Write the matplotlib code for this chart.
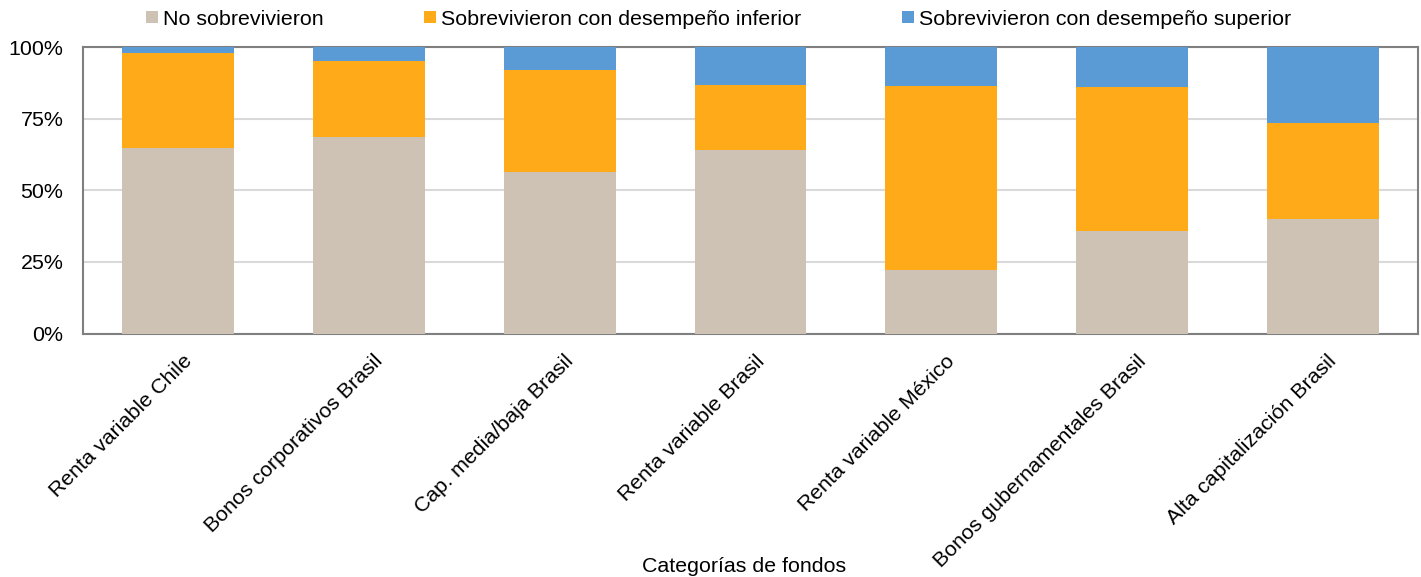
import matplotlib
matplotlib.use("Agg")
import matplotlib.pyplot as plt
import numpy as np
from matplotlib.ticker import FuncFormatter
from matplotlib.transforms import ScaledTranslation

plt.rcParams['font.family'] = ['Liberation Sans', 'DejaVu Sans']

categories = ["Renta variable Chile", "Bonos corporativos Brasil", "Cap. media/baja Brasil",
              "Renta variable Brasil", "Renta variable México", "Bonos gubernamentales Brasil",
              "Alta capitalización Brasil"]
no_sobrevivieron = [64.6, 68.6, 56.5, 64.0, 22.2, 35.8, 40.0]
desempeno_inferior = [33.4, 26.6, 35.4, 22.7, 64.1, 50.2, 33.4]
desempeno_superior = [2.0, 4.8, 8.1, 13.3, 13.7, 14.0, 26.6]
series_names = ["No sobrevivieron", "Sobrevivieron con desempeño inferior",
                "Sobrevivieron con desempeño superior"]
colors = ["#CEC2B5", "#FFAB19", "#5A9AD5"]

FS = 15.4
fig = plt.figure(figsize=(14.21, 5.77), dpi=100)
ax = fig.add_axes([0.0584, 0.422, 0.9395, 0.4965])

x = np.arange(len(categories))
w = 0.587
b1 = ax.bar(x, no_sobrevivieron, w, color=colors[0], label=series_names[0], zorder=3)
b2 = ax.bar(x, desempeno_inferior, w, bottom=no_sobrevivieron, color=colors[1],
            label=series_names[1], zorder=3)
bottom3 = np.array(no_sobrevivieron) + np.array(desempeno_inferior)
b3 = ax.bar(x, desempeno_superior, w, bottom=bottom3, color=colors[2],
            label=series_names[2], zorder=3)

ax.set_xlim(-0.5, len(categories) - 0.5)
ax.set_ylim(0, 100)
ax.set_yticks([0, 25, 50, 75, 100])
ax.yaxis.set_major_formatter(FuncFormatter(lambda v, p: f"{int(v)}%"))
ax.yaxis.grid(True, color="#D9D9D9", linewidth=1.5, zorder=0)
ax.set_axisbelow(True)
ax.tick_params(axis='y', length=0, labelsize=FS, pad=14)
ax.tick_params(axis='x', length=0, labelsize=FS, pad=13)
ax.set_xticks(x)
ax.set_xticklabels(categories, rotation=45, ha='right', rotation_mode='anchor')
shift = ScaledTranslation(4 / 100, 0, fig.dpi_scale_trans)
for lbl in ax.get_xticklabels():
    lbl.set_transform(lbl.get_transform() + shift)
for s in ax.spines.values():
    s.set_color("#7F7F7F")
    s.set_linewidth(1.5)
ax.set_xlabel("Categorías de fondos", fontsize=FS)
ax.xaxis.set_label_coords(0.495, -0.78)

fig.legend(handles=[b1, b2, b3], labels=series_names, loc='center', ncol=3,
           bbox_to_anchor=(0.5058, 0.967), frameon=False, fontsize=FS,
           handlelength=0.55, handleheight=0.55, handletextpad=0.25,
           columnspacing=4.7, borderaxespad=0)

fig.savefig("out.png", dpi=100)
